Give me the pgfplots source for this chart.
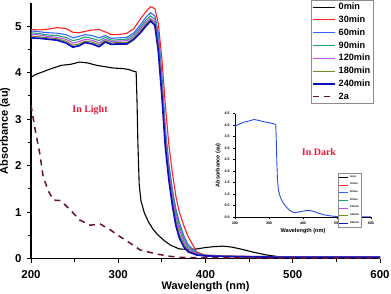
\documentclass[border=0pt]{standalone}
\usepackage{pgfplots}
\usepackage{pgfplotstable}
\pgfplotsset{compat=1.18}
\usepackage{fontspec}
\setmainfont{Liberation Sans}
\newfontfamily\serifb{Liberation Serif}

\definecolor{c30}{HTML}{FF2020}
\definecolor{c60}{HTML}{3366FF}
\definecolor{c90}{HTML}{20A078}
\definecolor{c120}{HTML}{C050E0}
\definecolor{c180}{HTML}{6E8B2A}
\definecolor{c240}{HTML}{1010C0}
\definecolor{c2a}{HTML}{6B1020}
\definecolor{ctxt}{HTML}{EE1838}

\pgfplotstableread{
x c30 c60 c90 c120 c180 c240
200 4.93 4.90 4.86 4.83 4.79 4.75
210 4.92 4.88 4.84 4.81 4.77 4.74
220 4.94 4.86 4.81 4.78 4.75 4.72
230 4.97 4.85 4.80 4.76 4.73 4.70
240 4.95 4.82 4.76 4.72 4.68 4.64
248 4.87 4.75 4.69 4.64 4.59 4.55
255 4.86 4.78 4.72 4.67 4.62 4.58
262 4.89 4.82 4.77 4.72 4.68 4.65
270 4.92 4.80 4.74 4.70 4.66 4.62
278 4.93 4.75 4.69 4.64 4.60 4.56
285 4.88 4.80 4.76 4.72 4.69 4.66
292 4.82 4.74 4.70 4.67 4.64 4.61
300 4.82 4.75 4.71 4.68 4.65 4.62
310 4.85 4.76 4.72 4.69 4.65 4.62
318 4.95 4.86 4.82 4.78 4.75 4.72
325 5.15 5.02 4.97 4.93 4.89 4.85
332 5.32 5.20 5.14 5.09 5.05 5.01
337 5.42 5.29 5.22 5.17 5.14 5.11
342 5.38 5.22 5.15 5.10 5.06 5.02
346 5.05 4.85 4.75 4.65 4.55 4.45
350 4.30 3.95 3.85 3.75 3.62 3.50
354 3.30 2.80 2.70 2.60 2.50 2.40
358 2.45 2.05 1.95 1.87 1.78 1.70
362 1.85 1.50 1.42 1.34 1.25 1.15
366 1.35 1.08 1.00 0.92 0.82 0.72
370 1.00 0.78 0.70 0.62 0.53 0.45
375 0.72 0.50 0.44 0.38 0.32 0.26
380 0.48 0.30 0.26 0.22 0.18 0.15
390 0.14 0.12 0.11 0.10 0.09 0.08
400 0.08 0.07 0.07 0.06 0.06 0.06
420 0.06 0.05 0.05 0.05 0.05 0.05
450 0.05 0.05 0.04 0.04 0.04 0.04
500 0.04 0.04 0.04 0.04 0.03 0.03
600 0.04 0.04 0.04 0.04 0.03 0.03
}\timedata

\pgfplotstableread{
x y
200 3.90
205 3.96
215 4.03
225 4.10
235 4.16
245 4.18
256 4.23
265 4.21
275 4.16
285 4.13
295 4.10
305 4.09
312 4.07
318 4.03
320.5 4.02
321.5 3.40
322.5 2.50
324 1.60
326 1.25
330 0.98
335 0.78
340 0.63
345 0.52
352 0.40
360 0.29
370 0.21
380 0.20
390 0.21
400 0.24
410 0.26
420 0.27
430 0.25
440 0.21
455 0.14
470 0.08
485 0.04
500 0.02
600 0.01
}\zerodata

\pgfplotstableread{
x y
200 3.30
205 2.75
210 2.27
214 1.76
220 1.45
226 1.26
234 1.25
245 1.05
256 0.83
268 0.72
279 0.75
291 0.62
300 0.50
310 0.38
325 0.19
344 0.10
360 0.05
371 0.03
400 0.02
500 0.01
600 0.01
}\twoadata

\pgfplotstableread{
x y
200 3.95
210 4.02
225 4.12
240 4.17
256 4.24
270 4.20
285 4.14
300 4.10
312 4.06
320 4.02
321.5 3.30
323 2.40
325 1.60
328 1.15
333 0.88
340 0.65
350 0.45
360 0.30
370 0.21
378 0.19
395 0.24
410 0.28
420 0.28
430 0.25
445 0.17
460 0.10
480 0.05
500 0.02
600 0.01
}\darkdata

\begin{document}
\begin{tikzpicture}
\useasboundingbox (0,0) rectangle (391bp,294bp);
\begin{axis}[
  at={(31bp,35.3bp)}, anchor=south west,
  scale only axis, width=349bp, height=255.7bp,
  xmin=200, xmax=600, ymin=0, ymax=5.5,
  axis lines*=left,
  axis line style={line width=1.3pt},
  xtick={200,300,400,500,600}, minor x tick num=1,
  ytick={0,1,2,3,4,5}, minor y tick num=1,
  tick align=outside,
  major tick length=4bp, minor tick length=3bp,
  every tick/.style={black, line width=1pt},
  /pgf/number format/assume math mode=true,
  tick label style={font=\fontsize{11.5}{12}\selectfont\bfseries},
  xticklabel style={yshift=-4bp},
  yticklabel style={xshift=-2bp},
  xlabel={Wavelength (nm)},
  ylabel={Absorbance (au)},
  label style={font=\fontsize{11}{12}\selectfont\bfseries},
  xlabel style={yshift=4bp},
  ylabel style={yshift=-2bp},
  legend cell align=left,
  legend style={at={(axis description cs:0.802,1.012)}, anchor=north west,
    draw=black!45, line width=0.6pt, inner sep=0.8bp,
    font=\fontsize{9.2}{9.2}\selectfont\bfseries,
    row sep=0.7bp,
    /tikz/every odd column/.append style={column sep=1bp}},
  legend image code/.code={\draw[#1] (0bp,0bp) -- (22bp,0bp);},
]
\addplot[black, line width=1.1pt] table[x=x,y=y] {\zerodata};
\addlegendentry{0min}
\addplot[c30, line width=1.1pt] table[x=x,y=c30] {\timedata};
\addlegendentry{30min}
\addplot[c60, line width=1.1pt] table[x=x,y=c60] {\timedata};
\addlegendentry{60min}
\addplot[c90, line width=1.1pt] table[x=x,y=c90] {\timedata};
\addlegendentry{90min}
\addplot[c120, line width=1.1pt] table[x=x,y=c120] {\timedata};
\addlegendentry{120min}
\addplot[c180, line width=1.1pt] table[x=x,y=c180] {\timedata};
\addlegendentry{180min}
\addplot[c240, line width=1.7pt] table[x=x,y=c240] {\timedata};
\addlegendentry{240min}
\addplot[c2a, line width=1.5pt, dash pattern=on 6bp off 5bp] table[x=x,y=y] {\twoadata};
\addlegendentry{2a}
\end{axis}

\node[font=\serifb\fontsize{10}{10}\selectfont\bfseries, text=ctxt] at (90bp,184bp) {In Light};
\node[font=\serifb\fontsize{10}{10}\selectfont\bfseries, text=ctxt] at (319bp,142bp) {In Dark};

\begin{axis}[
  at={(235bp,77bp)}, anchor=south west,
  scale only axis, width=136bp, height=103.5bp,
  xmin=200, xmax=600, ymin=0, ymax=4.5,
  axis lines*=left,
  axis line style={line width=0.6pt},
  xtick={200,300,400,500,600}, minor x tick num=1,
  ytick={0,0.5,1,1.5,2,2.5,3,3.5,4,4.5},
  tick align=outside,
  major tick length=1.8bp, minor tick length=1.2bp,
  every tick/.style={black, line width=0.5pt},
  /pgf/number format/assume math mode=true,
  yticklabel style={/pgf/number format/.cd, fixed, fixed zerofill, precision=1},
  tick label style={font=\fontsize{3.6}{4}\selectfont\bfseries},
  xlabel={Wavelength (nm)},
  ylabel={Absorbance (au)},
  label style={font=\fontsize{5.6}{6}\selectfont\bfseries},
  xlabel style={yshift=3bp},
  ylabel style={yshift=-3bp},
  legend cell align=left,
  legend style={at={(axis description cs:0.757,0.425)}, anchor=north west,
    draw=black!45, line width=0.3pt, inner sep=0.3bp,
    font=\fontsize{2.6}{2.6}\selectfont\bfseries,
    row sep=0.3bp,
    /tikz/every odd column/.append style={column sep=0.3bp}},
  legend image code/.code={\draw[#1] (0bp,0bp) -- (9bp,0bp);},
]
\addlegendimage{black, line width=0.5pt}\addlegendentry{0min}
\addlegendimage{c30, line width=0.5pt}\addlegendentry{30min}
\addlegendimage{c60, line width=0.5pt}\addlegendentry{60min}
\addlegendimage{c90, line width=0.5pt}\addlegendentry{90min}
\addlegendimage{c120, line width=0.5pt}\addlegendentry{120min}
\addlegendimage{c180, line width=0.5pt}\addlegendentry{180min}
\addlegendimage{c240, line width=0.5pt}\addlegendentry{240min}
\addplot[c60!70!c240, line width=0.9pt, forget plot] table[x=x,y=y] {\darkdata};
\end{axis}
\end{tikzpicture}
\end{document}
